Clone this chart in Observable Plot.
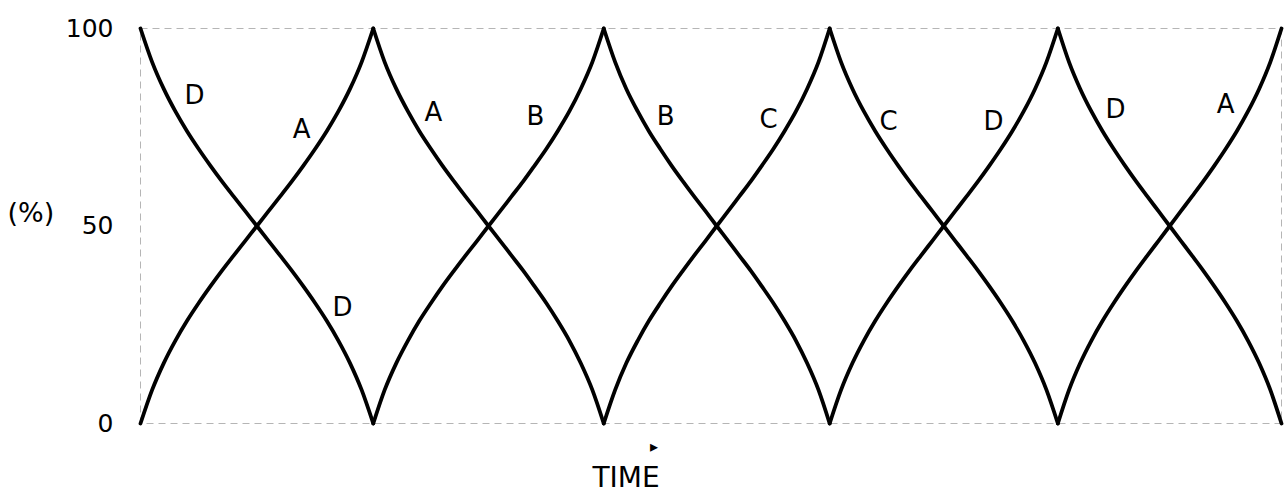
<!DOCTYPE html>
<html>
<head>
<meta charset="utf-8">
<script src="https://cdn.jsdelivr.net/npm/d3@7"></script>
<script src="https://cdn.jsdelivr.net/npm/@observablehq/plot@0.6"></script>
<style>
  body { margin: 0; background: #fff; }
  #chart svg { display: block; }
</style>
</head>
<body>
<div id="chart"></div>
<script>
// Time positions (arbitrary units, 5 half-cycles; peaks at 0, 1.02, 2.03, 3.02, 4.02, 5)
const time = [
  0, 0.051, 0.102, 0.153, 0.204, 0.255, 0.306, 0.357, 0.408, 0.459, 0.51, 0.561, 0.612, 0.663, 0.714, 0.765, 0.816, 0.867, 0.918, 0.969, 1.02,
  1.07, 1.121, 1.172, 1.222, 1.273, 1.323, 1.374, 1.424, 1.475, 1.525, 1.576, 1.626, 1.677, 1.727, 1.778, 1.828, 1.879, 1.929, 1.98, 2.03,
  2.08, 2.129, 2.179, 2.228, 2.278, 2.327, 2.377, 2.426, 2.476, 2.525, 2.575, 2.624, 2.674, 2.723, 2.773, 2.822, 2.872, 2.921, 2.971, 3.02,
  3.07, 3.12, 3.17, 3.22, 3.27, 3.32, 3.37, 3.42, 3.47, 3.52, 3.57, 3.62, 3.67, 3.72, 3.77, 3.82, 3.87, 3.92, 3.97, 4.02,
  4.069, 4.118, 4.167, 4.216, 4.265, 4.314, 4.363, 4.412, 4.461, 4.51, 4.559, 4.608, 4.657, 4.706, 4.755, 4.804, 4.853, 4.902, 4.951, 5
];
// Percentage of the curve that starts at 100 %
const curve1 = [
  100, 91.5, 84.7, 79, 74, 69.5, 65.3, 61.3, 57.5, 53.75, 50, 46.25, 42.5, 38.7, 34.7, 30.5, 26, 21, 15.3, 8.5, 0,
  8.5, 15.3, 21, 26, 30.5, 34.7, 38.7, 42.5, 46.25, 50, 53.75, 57.5, 61.3, 65.3, 69.5, 74, 79, 84.7, 91.5, 100,
  91.5, 84.7, 79, 74, 69.5, 65.3, 61.3, 57.5, 53.75, 50, 46.25, 42.5, 38.7, 34.7, 30.5, 26, 21, 15.3, 8.5, 0,
  8.5, 15.3, 21, 26, 30.5, 34.7, 38.7, 42.5, 46.25, 50, 53.75, 57.5, 61.3, 65.3, 69.5, 74, 79, 84.7, 91.5, 100,
  91.5, 84.7, 79, 74, 69.5, 65.3, 61.3, 57.5, 53.75, 50, 46.25, 42.5, 38.7, 34.7, 30.5, 26, 21, 15.3, 8.5, 0
];
// Percentage of the curve that starts at 0 %
const curve2 = [
  0, 8.5, 15.3, 21, 26, 30.5, 34.7, 38.7, 42.5, 46.25, 50, 53.75, 57.5, 61.3, 65.3, 69.5, 74, 79, 84.7, 91.5, 100,
  91.5, 84.7, 79, 74, 69.5, 65.3, 61.3, 57.5, 53.75, 50, 46.25, 42.5, 38.7, 34.7, 30.5, 26, 21, 15.3, 8.5, 0,
  8.5, 15.3, 21, 26, 30.5, 34.7, 38.7, 42.5, 46.25, 50, 53.75, 57.5, 61.3, 65.3, 69.5, 74, 79, 84.7, 91.5, 100,
  91.5, 84.7, 79, 74, 69.5, 65.3, 61.3, 57.5, 53.75, 50, 46.25, 42.5, 38.7, 34.7, 30.5, 26, 21, 15.3, 8.5, 0,
  8.5, 15.3, 21, 26, 30.5, 34.7, 38.7, 42.5, 46.25, 50, 53.75, 57.5, 61.3, 65.3, 69.5, 74, 79, 84.7, 91.5, 100
];
const pointsPerSegment = 20;
const segmentCount = 5;

// Curve letters
const labelText  = ["D", "A", "A", "B", "B", "C", "C", "D", "D", "A", "D"];
const labelTime  = [0.237, 0.706, 1.284, 1.731, 2.301, 2.752, 3.278, 3.738, 4.273, 4.755, 0.885];
const labelValue = [82.9, 74.5, 78.7, 77.7, 77.7, 77, 76.5, 76.3, 79.4, 80.7, 29.4];

const yTicks = [0, 50, 100];
const yLabel = "(%)";
const xLabel = "TIME";

// Build segmented rows (each monotone half-cycle separately so peaks stay cusped)
const rows = [];
[["c1", curve1], ["c2", curve2]].forEach(([name, vals]) => {
  for (let s = 0; s < segmentCount; s++) {
    for (let i = s * pointsPerSegment; i <= (s + 1) * pointsPerSegment; i++) {
      rows.push({t: time[i], v: vals[i], z: name + "-" + s});
    }
  }
});
const labels = labelText.map((text, i) => ({text, t: labelTime[i], v: labelValue[i]}));

const font = "DejaVu Sans, sans-serif";

const chart = Plot.plot({
  width: 1286,
  height: 500,
  marginLeft: 140,
  marginRight: 5,
  marginTop: 28,
  marginBottom: 77,
  style: {fontFamily: font, background: "#fff", color: "#000"},
  x: {domain: [0, 5], axis: null},
  y: {domain: [0, 100], axis: null},
  marks: [
    Plot.frame({stroke: "#b5b5b5", strokeWidth: 1, strokeDasharray: "7,5"}),
    Plot.line(rows, {x: "t", y: "v", z: "z", curve: "monotone-x", stroke: "#000", strokeWidth: 3.8, strokeLinejoin: "round"}),
    Plot.axisY(yTicks, {tickSize: 0, tickPadding: 27, fontSize: 25, fontFamily: font, letterSpacing: "2px", label: null, tickFormat: d => String(d)}),
    Plot.text(labels, {x: "t", y: "v", text: "text", fontSize: 26, fontFamily: font, fill: "#000"}),
    Plot.text([yLabel], {frameAnchor: "left", text: d => d, textAnchor: "start", dx: -133, dy: -13, fontSize: 27, fontFamily: font, fill: "#000"}),
    Plot.text([xLabel], {frameAnchor: "bottom", text: d => d, dx: -85, dy: 63, fontSize: 28, fontFamily: font, fill: "#000", letterSpacing: "3px"}),
    Plot.text(["\u25B8"], {frameAnchor: "bottom", text: d => d, dx: -57, dy: 28, fontSize: 16, fontFamily: font, fill: "#000"})
  ]
});
document.getElementById("chart").appendChild(chart);
</script>
</body>
</html>
